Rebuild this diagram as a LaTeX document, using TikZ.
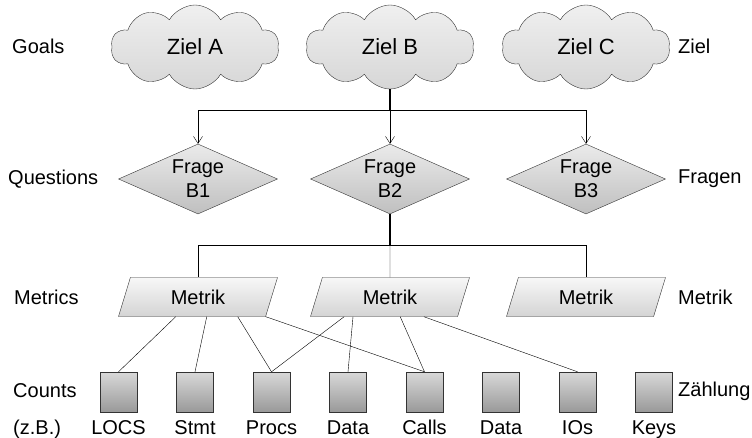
\documentclass[tikz,border=0pt]{standalone}
\usepackage{fontspec}
\setmainfont{Liberation Sans}
\usetikzlibrary{shapes,positioning,calc,arrows.meta}

\begin{document}
\begin{tikzpicture}[x=1pt,y=-1pt,font=\fontsize{20}{24}\selectfont,
  goal/.style={cloud,draw=black!80,cloud puffs=10,cloud puff arc=120,
    cloud ignores aspect,minimum width=168pt,minimum height=84pt,inner sep=0pt,
    top color=black!6,bottom color=black!16,font=\fontsize{22}{24}\selectfont},
  question/.style={diamond,draw=black!80,aspect=2.27,minimum width=159pt,
    minimum height=70pt,inner sep=0pt,align=center,
    top color=black!8,bottom color=black!25},
  metric/.style={trapezium,trapezium left angle=51,trapezium right angle=129,
    trapezium stretches body,draw=black!80,minimum width=159pt,
    minimum height=39pt,inner sep=0pt,top color=black!3,bottom color=black!17},
  count/.style={rectangle,draw=black!80,minimum width=37pt,minimum height=40pt,
    inner sep=0pt,top color=black!15,bottom color=black!40},
  lbl/.style={inner sep=0pt},
  arr/.style={-{Straight Barb[length=7pt,width=9pt]}},
  trunk/.style={line width=1.6pt}]
  \useasboundingbox (0,0) rectangle (752,438);

  % goals
  \node[goal] (za) at (195,47) {Ziel A};
  \node[goal] (zb) at (390,47) {Ziel B};
  \node[goal] (zc) at (586,47) {Ziel C};

  % questions
  \node[question] (qa) at (198,179) {Frage\\B1};
  \node[question] (qb) at (390,179) {Frage\\B2};
  \node[question] (qc) at (586,179) {Frage\\B3};

  % metrics
  \node[metric] (ma) at (198,297) {Metrik};
  \node[metric] (mb) at (390,297) {Metrik};
  \node[metric] (mc) at (586,297) {Metrik};

  % counts
  \foreach \i/\t in {1/LOCS,2/Stmt,3/Procs,4/Data,5/Calls,6/Data,7/IOs,8/Keys} {
    \node[count] (c\i) at ({118.5+76.5*(\i-1)},392) {};
    \node[lbl,anchor=base] (t\i) at ($(c\i.south)+(0,22)$) {\t};
  }

  % row labels
  \node[lbl,anchor=west] (goals) at (12,46) {Goals};
  \node[lbl,anchor=west] (quest) at (8,179) {Questions};
  \node[lbl,anchor=west] (metrics) at (14,297) {Metrics};
  \node[lbl,anchor=west] (counts) at (13,391) {Counts};
  \node[lbl,anchor=base west] (zb_) at (13,434) {(z.B.)};
  \node[lbl,anchor=west] (ziel) at (678,46) {Ziel};
  \node[lbl,anchor=west] (fragen) at (678,179) {Fragen};
  \node[lbl,anchor=west] (metrik) at (678,297) {Metrik};
  \node[lbl,anchor=west] (zaehl) at (678,391) {Zählung};

  % goal -> questions
  \coordinate (jq) at (390,110);
  \draw[trunk] (zb.south) -- (jq);
  \draw[arr] (jq) -| (qa.north);
  \draw[arr] (jq) -- (qb.north);
  \draw[arr] (jq) -| (qc.north);

  % question -> metrics
  \coordinate (jm) at (390,245);
  \draw[trunk] (qb.south) -- (jm);
  \draw (jm) -| (ma.north);
  \draw (jm) -- (mb.north);
  \draw (jm) -| (mc.north);

  % metrics -> counts
  \draw ($(ma.bottom left corner)!0.39!(ma.bottom right corner)$) -- (c1.north);
  \draw ($(ma.bottom left corner)!0.60!(ma.bottom right corner)$) -- (c2.north);
  \draw ($(ma.bottom left corner)!0.81!(ma.bottom right corner)$) -- (c3.north);
  \draw (ma.bottom right corner) -- (c5.north);
  \draw ($(mb.bottom left corner)!0.23!(mb.bottom right corner)$) -- (c3.north);
  \draw ($(mb.bottom left corner)!0.29!(mb.bottom right corner)$) -- (c4.north);
  \draw ($(mb.bottom left corner)!0.61!(mb.bottom right corner)$) -- (c5.north);
  \draw ($(mb.bottom left corner)!0.77!(mb.bottom right corner)$) -- (c7.north);
\end{tikzpicture}
\end{document}
